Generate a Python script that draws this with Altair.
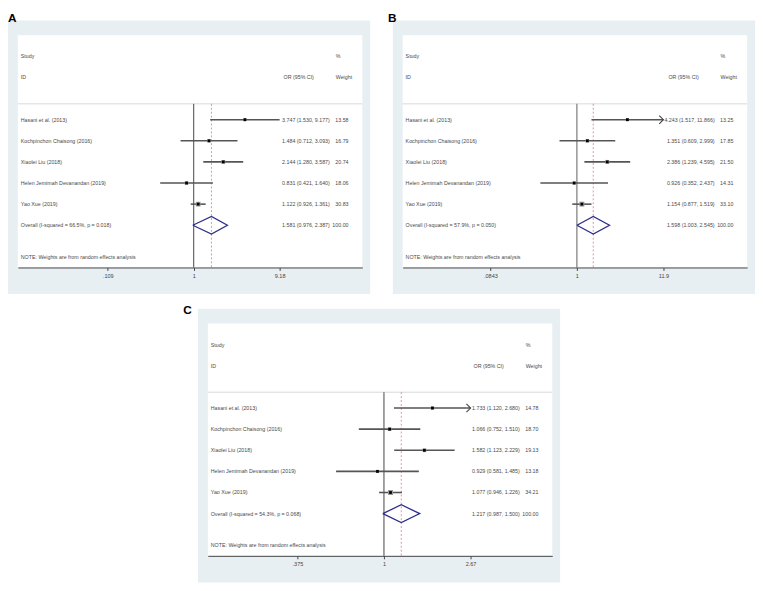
import math
import altair as alt
import pandas as pd

# ---------------- data ----------------
studies = ["Hasani et al. (2013)", "Kochpinchon Chaisong (2016)", "Xiaolei Liu (2018)",
           "Helen Jemimah Devanandan (2019)", "Yao Xue (2019)"]

# Panel A
a_or = [3.747, 1.484, 2.144, 0.831, 1.122]
a_lo = [1.530, 0.712, 1.280, 0.421, 0.926]
a_hi = [9.177, 3.093, 3.587, 1.640, 1.361]
a_w = [13.58, 16.79, 20.74, 18.06, 30.83]
a_overall = [1.581, 0.976, 2.387]
a_het = "Overall  (I-squared = 66.5%, p = 0.018)"
a_ticks = [0.109, 1, 9.18]
a_arrow = [False, False, False, False, False]

# Panel B
b_or = [4.243, 1.351, 2.386, 0.926, 1.154]
b_lo = [1.517, 0.609, 1.239, 0.352, 0.877]
b_hi = [11.866, 2.999, 4.595, 2.437, 1.519]
b_w = [13.25, 17.85, 21.50, 14.31, 33.10]
b_overall = [1.598, 1.003, 2.545]
b_het = "Overall  (I-squared = 57.9%, p = 0.050)"
b_ticks = [0.0843, 1, 11.9]
b_arrow = [True, False, False, False, False]

# Panel C
c_or = [1.733, 1.066, 1.582, 0.929, 1.077]
c_lo = [1.120, 0.752, 1.123, 0.581, 0.946]
c_hi = [2.680, 1.510, 2.229, 1.485, 1.226]
c_w = [14.78, 18.70, 19.13, 13.18, 34.21]
c_overall = [1.217, 0.987, 1.500]
c_het = "Overall  (I-squared = 54.3%, p = 0.068)"
c_ticks = [0.375, 1, 2.67]
c_arrow = [True, False, False, False, False]

note = "NOTE: Weights are from random effects analysis"

# ---------------- layout / style ----------------
LB = "#E7EFF2"
W, H = 368, 278
IX0, IX1, IY0, IY1 = 10, 360, 15, 251
FONT = "Liberation Sans"
FS = 5.4
TXT = "#4a4a4a"


def panel(tag, ors, los, his, ws, overall, het, ticks, arrows, p1, pmax,
          tdx, toff, null_color, null_w):
    k = (pmax - p1) / math.log(ticks[-1])
    dom = [math.exp((IX0 - p1) / k), math.exp((IX1 - p1) / k)]
    xs = alt.Scale(type="log", domain=dom, range=[IX0, IX1], nice=False)
    ys = alt.Scale(domain=[-4, 7], range=[IY0, IY1], nice=False, zero=False)
    xaxis = alt.Axis(values=ticks, title=None, grid=False, offset=-(H - IY1),
                     labelExpr="replace(toString(datum.value), /^0\\./, '.')",
                     domainColor="#444", tickColor="#444", tickSize=3,
                     labelFontSize=5.6, labelColor="#444", labelFont=FONT,
                     labelPadding=3, zindex=1, labelFlush=False, labelOverlap=False)

    def X(f):
        return alt.X(f, type="quantitative", scale=xs, axis=xaxis)

    def Y(f):
        return alt.Y(f, type="quantitative", scale=ys, axis=None)

    his_c = [min(h, ticks[-1]) for h in his]
    df = pd.DataFrame({
        "row": list(range(5)), "est": ors, "lo": los, "hi": his_c, "w": ws,
        "arrow": arrows,
    })

    one = pd.DataFrame({"a": [0]})
    white = alt.Chart(one).mark_rect(color="white").encode(
        x=alt.value(IX0), x2=alt.value(IX1), y=alt.value(IY0), y2=alt.value(IY1))

    sep = alt.Chart(pd.DataFrame({"y": [-0.75]})).mark_rule(
        color="#d8d8d8", strokeWidth=1).encode(
        y=Y("y"), x=alt.value(IX0), x2=alt.value(IX1))

    guides = pd.DataFrame({"x": [1.0], "y0": [-0.75], "y1": [7.0]})
    null_line = alt.Chart(guides).mark_rule(color=null_color, strokeWidth=null_w).encode(
        x=X("x"), y=Y("y0"), y2=alt.Y2("y1"))

    ov_df = pd.DataFrame({"x": [overall[0]], "y0": [-0.75], "y1": [7.0]})
    ov_line = alt.Chart(ov_df).mark_rule(color="#d9898f", strokeWidth=0.9,
                                         strokeDash=[2, 2]).encode(
        x=X("x"), y=Y("y0"), y2=alt.Y2("y1"))

    ci = alt.Chart(df).mark_rule(color="#555555", strokeWidth=1.6).encode(
        x=X("lo"), x2=alt.X2("hi"), y=Y("row"))

    boxes = alt.Chart(df).mark_square(color="#9a9a9a", opacity=1).encode(
        x=X("est"), y=Y("row"),
        size=alt.Size("w:Q", scale=alt.Scale(domain=[0, 40], range=[0, 30]), legend=None))

    dots = alt.Chart(df).mark_square(color="black", size=8, opacity=1).encode(
        x=X("est"), y=Y("row"))

    arrow = alt.Chart(df).transform_filter("datum.arrow").mark_point(
        shape="M-1,-1L0,0L-1,1", filled=False, color="#444", strokeWidth=1.1,
        size=70, opacity=1).encode(x=X("hi"), y=Y("row"))

    dia = pd.DataFrame({
        "x": [overall[1], overall[0], overall[2], overall[0], overall[1]],
        "y": [5, 5 - 0.42, 5, 5 + 0.42, 5],
        "o": [0, 1, 2, 3, 4],
    })
    diamond = alt.Chart(dia).mark_line(color="#2e2e8a", strokeWidth=1.3).encode(
        x=X("x"), y=Y("y"), order="o:Q")

    left_df = pd.DataFrame({
        "row": [-3, -2, 0, 1, 2, 3, 4, 5, 6.5],
        "t": ["Study", "ID"] + studies + [het, note],
    })
    left_txt = alt.Chart(left_df).mark_text(
        align="left", baseline="middle", font=FONT, fontSize=FS, color=TXT).encode(
        x=alt.value(13), y=Y("row"), text="t:N")

    ci_df = pd.DataFrame({
        "row": [0, 1, 2, 3, 4, 5],
        "t": [f"{o:.3f} ({l:.3f}, {h:.3f})" for o, l, h in zip(ors, los, his)]
             + [f"{overall[0]:.3f} ({overall[1]:.3f}, {overall[2]:.3f})"],
        "wt": [f"{w:.2f}" for w in ws] + ["100.00"],
    })
    ci_txt = alt.Chart(ci_df).mark_text(
        align="right", baseline="middle", font=FONT, fontSize=FS, color=TXT).encode(
        x=alt.value(327), y=Y("row"), text="t:N")
    w_txt = alt.Chart(ci_df).mark_text(
        align="right", baseline="middle", font=FONT, fontSize=FS, color=TXT).encode(
        x=alt.value(346), y=Y("row"), text="wt:N")

    hdr_or = alt.Chart(pd.DataFrame({"row": [-2], "t": ["OR (95% CI)"]})).mark_text(
        align="left", baseline="middle", font=FONT, fontSize=FS, color=TXT).encode(
        x=alt.value(280), y=Y("row"), text="t:N")
    hdr_w = alt.Chart(pd.DataFrame({"row": [-3, -2], "t": ["%", "Weight"]})).mark_text(
        align="left", baseline="middle", font=FONT, fontSize=FS, color=TXT).encode(
        x=alt.value(333), y=Y("row"), text="t:N")

    return alt.layer(
        white, sep, null_line, ov_line, ci, boxes, dots, arrow, diamond,
        left_txt, ci_txt, w_txt, hdr_or, hdr_w,
    ).properties(
        width=W, height=H,
        view=alt.ViewBackground(fill=LB, strokeWidth=0),
        title=alt.TitleParams(text=tag, anchor="start", fontSize=12, fontWeight="bold",
                              font=FONT, color="black", dx=tdx, offset=toff),
    )


pA = panel("A", a_or, a_lo, a_hi, a_w, a_overall, a_het, a_ticks, a_arrow,
           188.7, 276.0, 0, -5, "#444444", 1.0)
pB = panel("B", b_or, b_lo, b_hi, b_w, b_overall, b_het, b_ticks, b_arrow,
           187.0, 275.0, -5, -5, "#9a9a9a", 1.6)
pC = panel("C", c_or, c_lo, c_hi, c_w, c_overall, c_het, c_ticks, c_arrow,
           189.0, 277.0, -15, -8, "#444444", 1.0)

spacer = alt.Chart(pd.DataFrame({"a": [0]})).mark_point(opacity=0).encode(
    x=alt.X("a:Q", axis=None), y=alt.Y("a:Q", axis=None)
).properties(width=178, height=10, view=alt.ViewBackground(fill="white", strokeWidth=0))

row1 = alt.hconcat(pA, pB, spacing=18)
row2 = alt.hconcat(spacer, pC, spacing=0)

chart = alt.vconcat(row1, row2, spacing=10).properties(
    padding=0, background="white"
).configure_view(strokeWidth=0)

chart.save("out.html", embed_options={"renderer": "svg", "actions": False})
